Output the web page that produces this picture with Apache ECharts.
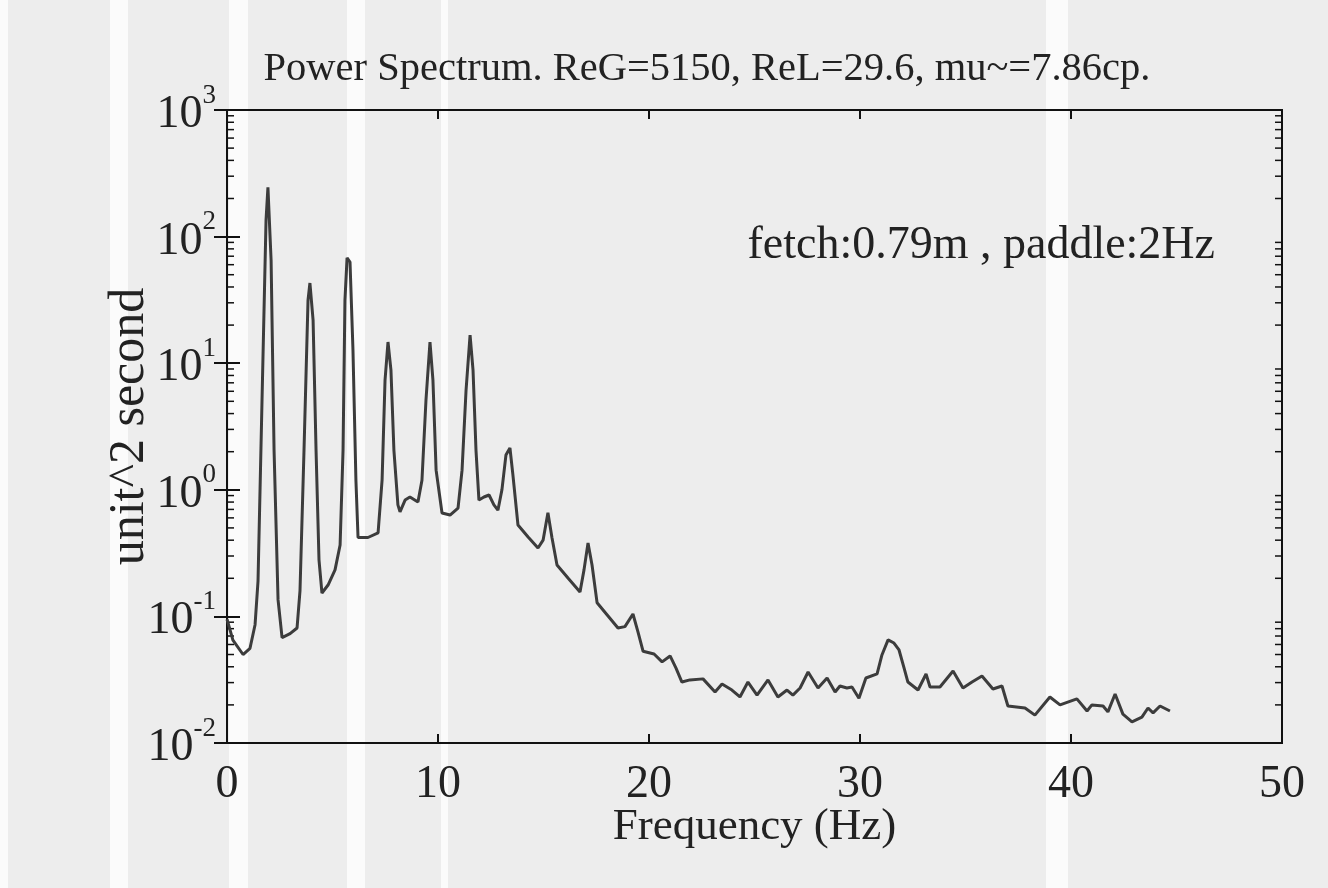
<!DOCTYPE html>
<html><head><meta charset="utf-8">
<script src="https://cdn.jsdelivr.net/npm/echarts@6/dist/echarts.min.js"></script>
<style>html,body{margin:0;padding:0;background:#ededed}#c{width:1328px;height:888px}</style>
</head><body><div id="c"></div>
<script>
const titleText = 'Power Spectrum. ReG=5150, ReL=29.6, mu~=7.86cp.';
const noteText = 'fetch:0.79m , paddle:2Hz';
const xAxisName = 'Frequency (Hz)';
const yAxisName = 'unit^2 second';
const xMin = 0, xMax = 50, xStep = 10;
const yMin = 0.01, yMax = 1000;
const minorDecades = [0.01, 0.1, 1, 10, 100];
const minorMultipliers = [2, 3, 4, 5, 6, 7, 8, 9];

const freq = [0,0.28,0.76,1.09,1.33,1.47,1.66,1.85,1.94,2.09,2.23,2.42,2.61,2.99,3.32,3.46,3.65,3.84,3.93,4.08,4.22,4.36,4.50,4.79,5.12,5.36,5.50,5.59,5.69,5.83,5.97,6.11,6.21,6.68,7.16,7.35,7.49,7.63,7.77,7.91,8.10,8.20,8.44,8.67,9.05,9.24,9.43,9.62,9.76,9.91,10.19,10.57,10.95,11.14,11.33,11.52,11.66,11.80,11.94,12.18,12.42,12.65,12.84,13.03,13.22,13.41,13.55,13.79,14.27,14.74,14.98,15.21,15.40,15.64,16.16,16.73,16.92,17.11,17.30,17.54,18.01,18.53,18.86,19.24,19.48,19.72,20.24,20.62,21.00,21.28,21.56,21.94,22.56,23.13,23.46,23.93,24.31,24.69,25.12,25.64,26.11,26.54,26.82,27.16,27.54,28.01,28.44,28.82,29.05,29.38,29.62,29.95,30.28,30.81,31.04,31.33,31.61,31.85,32.09,32.27,32.75,33.13,33.32,33.79,34.41,34.88,35.31,35.78,36.30,36.73,37.01,37.82,38.29,39.00,39.48,40.28,40.76,40.99,41.52,41.75,42.09,42.46,42.89,43.36,43.65,43.89,44.22,44.69];
const power = [0.095,0.065,0.050,0.056,0.086,0.19,5.1,135,245,65,2.06,0.135,0.068,0.073,0.081,0.16,2.06,31.5,43,21.9,2.06,0.28,0.153,0.177,0.233,0.366,2.06,31.5,68,63,12.7,1.19,0.42,0.42,0.456,1.19,7.36,14.7,8.83,2.06,0.76,0.67,0.83,0.877,0.80,1.19,5.1,14.7,7.36,1.43,0.656,0.632,0.718,1.43,6.14,16.7,8.83,2.06,0.83,0.877,0.91,0.76,0.69,1.0,1.88,2.14,1.31,0.527,0.424,0.347,0.40,0.66,0.42,0.255,0.201,0.156,0.233,0.38,0.255,0.128,0.103,0.081,0.083,0.1045,0.075,0.053,0.0505,0.0437,0.0487,0.039,0.0303,0.0315,0.0321,0.0253,0.0292,0.0262,0.0231,0.0303,0.0239,0.0315,0.0231,0.0262,0.0239,0.0272,0.0364,0.0272,0.0326,0.0253,0.0282,0.0272,0.0277,0.0226,0.0326,0.0351,0.0496,0.0652,0.0616,0.0543,0.039,0.0303,0.0262,0.0351,0.0277,0.0277,0.037,0.0272,0.0303,0.0338,0.0267,0.0282,0.0196,0.0189,0.0166,0.0231,0.020,0.0223,0.0179,0.020,0.0196,0.0176,0.0244,0.0169,0.0147,0.016,0.0189,0.0173,0.0196,0.0179];

const FONT = 'Liberation Serif';
const INK = '#222';
const GRID = {left: 227, right: 46, top: 110, bottom: 145};
const stripes = [[0,8],[110,128],[229,248],[347,365],[441,448],[1046,1068]];

const lineData = freq.map((f, i) => [f, power[i]]);
const minorTicks = [];
minorDecades.forEach(d => minorMultipliers.forEach(m => minorTicks.push([xMin, m * d])));

const chart = echarts.init(document.getElementById('c'), null, {renderer: 'canvas'});
const tickStyle = {show: true, inside: true, length: 9, lineStyle: {color: '#111', width: 2}};
chart.setOption({
  animation: false,
  backgroundColor: '#ededed',
  graphic: stripes.map(s => ({type: 'rect', z: -10, silent: true,
      shape: {x: s[0], y: 0, width: s[1] - s[0], height: 888}, style: {fill: '#fbfbfb'}}))
    .concat([
      {type: 'text', z: 10, x: 707, y: 69, style: {text: titleText, font: '40.5px "' + FONT + '"', fill: INK, textAlign: 'center', textVerticalAlign: 'middle'}},
      {type: 'text', z: 10, x: 1215, y: 246, style: {text: noteText, font: '46px "' + FONT + '"', fill: INK, textAlign: 'right', textVerticalAlign: 'middle'}}
    ]),
  grid: Object.assign({show: true, borderColor: '#111', borderWidth: 2, backgroundColor: 'transparent'}, GRID),
  xAxis: [{
    type: 'value', min: xMin, max: xMax, interval: xStep, position: 'bottom',
    axisLine: {show: false}, splitLine: {show: false}, axisTick: tickStyle,
    axisLabel: {fontFamily: FONT, fontSize: 46, color: INK, margin: 19},
    name: xAxisName, nameLocation: 'middle', nameGap: 62, nameMoveOverlap: false,
    nameTextStyle: {fontFamily: FONT, fontSize: 45, color: INK}
  }, {
    type: 'value', min: xMin, max: xMax, interval: xStep, position: 'top',
    axisLine: {show: false}, splitLine: {show: false}, axisTick: tickStyle,
    axisLabel: {show: false}
  }],
  yAxis: [{
    type: 'log', logBase: 10, min: yMin, max: yMax, position: 'left',
    axisLine: {show: false}, splitLine: {show: false},
    axisTick: Object.assign({}, tickStyle, {length: 13}),
    axisLabel: {
      margin: 11,
      formatter: v => '{b|10}{e|' + Math.round(Math.log10(v)) + '}',
      rich: {
        b: {fontFamily: FONT, fontSize: 46, color: INK, lineHeight: 56, verticalAlign: 'bottom'},
        e: {fontFamily: FONT, fontSize: 27, color: INK, lineHeight: 30, verticalAlign: 'top'}
      }
    },
    name: yAxisName, nameLocation: 'middle', nameGap: 72, nameRotate: 90, nameMoveOverlap: false,
    nameTextStyle: {fontFamily: FONT, fontSize: 50, color: INK}
  }, {
    type: 'log', logBase: 10, min: yMin, max: yMax, position: 'right',
    axisLine: {show: false}, splitLine: {show: false},
    axisTick: Object.assign({}, tickStyle, {length: 13}), axisLabel: {show: false}
  }],
  series: [{
    type: 'line', xAxisIndex: 0, yAxisIndex: 0, data: lineData,
    showSymbol: false, smooth: false,
    lineStyle: {color: '#3c3c3c', width: 3}
  }, {
    type: 'custom', xAxisIndex: 0, yAxisIndex: 0, data: minorTicks, silent: true,
    renderItem: (params, api) => {
      const v = api.value(1);
      const pL = api.coord([xMin, v]);
      const pR = api.coord([xMax, v]);
      const st = {stroke: '#111', lineWidth: 1.5};
      return {type: 'group', children: [
        {type: 'line', shape: {x1: pL[0], y1: pL[1], x2: pL[0] + 7, y2: pL[1]}, style: st},
        {type: 'line', shape: {x1: pR[0] - 7, y1: pR[1], x2: pR[0], y2: pR[1]}, style: st}
      ]};
    }
  }]
});
</script>
</body></html>
